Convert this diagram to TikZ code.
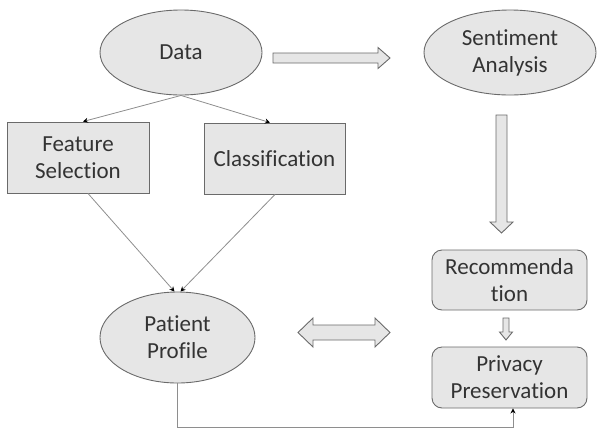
\documentclass[tikz,border=0pt]{standalone}
\usepackage{fontspec}
\setmainfont{Carlito}[Ligatures={NoCommon}]
\usepackage{tikz}
\usetikzlibrary{shapes.geometric,arrows.meta}
\definecolor{boxfill}{HTML}{E6E6E6}
\definecolor{boxline}{HTML}{6A6A6A}
\definecolor{wire}{HTML}{8E8E8E}
\definecolor{txt}{HTML}{333333}
\tikzset{
  blob/.style={ellipse,draw=boxline,fill=boxfill,line width=0.9pt,inner sep=0,
    align=center,text=txt,font=\fontsize{23}{27}\selectfont},
  sqbox/.style={rectangle,draw=boxline,fill=boxfill,line width=0.9pt,inner sep=0,
    align=center,text=txt,font=\fontsize{23}{27}\selectfont},
  rbox/.style={sqbox,rounded corners=10pt},
  wirearrow/.style={draw=wire,line width=0.8pt,-{Stealth[length=5pt,width=5pt,black]}},
  hollow/.style={draw=boxline,fill=boxfill,line width=0.9pt,line join=miter}}
\newcommand{\harrow}[6]{% x from, x to, y, shaft half, head half, head length (pointing right)
  \draw[hollow] (#1,#3-#4) -- (#2-#6,#3-#4) -- (#2-#6,#3-#5) -- (#2,#3)
    -- (#2-#6,#3+#5) -- (#2-#6,#3+#4) -- (#1,#3+#4) -- cycle;}
\newcommand{\varrow}[6]{% x, y from, y to, shaft half, head half, head length (pointing down)
  \draw[hollow] (#1-#4,#2) -- (#1-#4,#3-#6) -- (#1-#5,#3-#6) -- (#1,#3)
    -- (#1+#5,#3-#6) -- (#1+#4,#3-#6) -- (#1+#4,#2) -- cycle;}
\newcommand{\dharrow}[6]{% x from, x to, y, shaft half, head half, head length (both ends)
  \draw[hollow] (#1,#3) -- (#1+#6,#3-#5) -- (#1+#6,#3-#4) -- (#2-#6,#3-#4)
    -- (#2-#6,#3-#5) -- (#2,#3) -- (#2-#6,#3+#5) -- (#2-#6,#3+#4)
    -- (#1+#6,#3+#4) -- (#1+#6,#3+#5) -- cycle;}
\begin{document}
\begin{tikzpicture}[x=1pt,y=-1pt]
  \useasboundingbox (0,0) rectangle (597,429);
  % ---- left column ----
  \node[blob,minimum width=162pt,minimum height=85pt] (data) at (181,52.5) {Data};
  \node[sqbox,minimum width=142pt,minimum height=71pt] (featsel) at (78,157.5) {Feature\\Selection};
  \node[sqbox,minimum width=141pt,minimum height=71pt] (classif) at (274.5,158.5) {Classification};
  \node[blob,minimum width=155pt,minimum height=91pt] (patient) at (177.5,337.5) {Patient\\Profile};
  % ---- right column ----
  \node[blob,minimum width=172pt,minimum height=85pt] (sentim) at (510,52.5) {Sentiment\\Analysis};
  \node[rbox,minimum width=155pt,minimum height=60pt] (recomm) at (509.5,280) {Recommenda\\tion};
  \node[rbox,minimum width=155pt,minimum height=61pt] (privacy) at (509.5,377.5) {Privacy\\Preservation};
  % ---- thin connectors ----
  \draw[wirearrow] (data.south) -- ([xshift=5pt]featsel.north);
  \draw[wirearrow] (data.south) -- ([xshift=-4.5pt]classif.north);
  \draw[wirearrow] ([xshift=10pt]featsel.south) -- ([xshift=-3pt]patient.north);
  \draw[wirearrow] ([xshift=0.5pt]classif.south) -- ([xshift=3pt]patient.north);
  \coordinate (lowleft) at (patient.south |- 0,427);
  \coordinate (lowright) at ([xshift=3.5pt]privacy.south |- 0,427);
  \draw[wirearrow] (patient.south) -- (lowleft) -- (lowright) -- ([xshift=3.5pt]privacy.south);
  % ---- block arrows ----
  \harrow{273}{390}{58}{5}{10.5}{12}
  \varrow{501.5}{115}{233}{5.5}{11.5}{11}
  \varrow{506}{318}{340}{3}{6.5}{8}
  \dharrow{298}{390}{332.5}{7.5}{14.5}{15}
\end{tikzpicture}
\end{document}
